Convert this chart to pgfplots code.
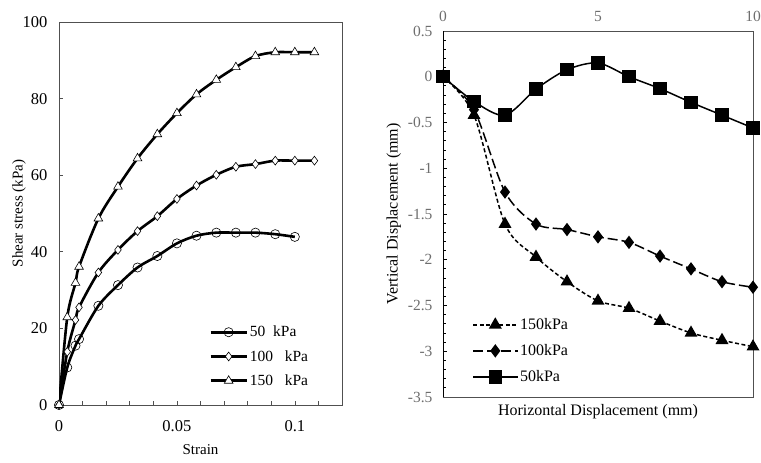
\documentclass[border=0pt]{standalone}
\usepackage{pgfplots}
\pgfplotsset{compat=1.18}
\usepackage{fontspec}
\setmainfont{Liberation Serif}
\definecolor{framegray}{RGB}{80,80,80}
\definecolor{labgray}{RGB}{110,110,110}

\begin{document}
\begin{tikzpicture}
  \useasboundingbox (0pt,0pt) rectangle (761pt,463pt);

  % left: shear stress vs strain
  \begin{axis}[
    at={(59pt,58pt)}, anchor=south west,
    scale only axis, width=283pt, height=383pt,
    xmin=0, xmax=0.12, ymin=0, ymax=100,
    xtick={0,0.05,0.1}, xticklabels={0,0.05,0.1},
    minor xtick={0.01,0.02,0.03,0.04,0.06,0.07,0.08,0.09,0.11},
    ytick={0,20,40,60,80,100},
    tick align=inside, major tick length=4pt, minor tick length=4pt,
    xtick pos=bottom, ytick pos=left,
    axis line style={framegray, line width=0.9pt},
    every tick/.style={framegray, line width=0.6pt},
    tick label style={font=\fontsize{16.5}{18}\selectfont},
    xticklabel style={yshift=-12pt},
    yticklabel style={xshift=-8pt},
    /pgf/number format/assume math mode=true,
    xlabel={Strain}, ylabel={Shear stress (kPa)},
    label style={font=\fontsize{15}{17}\selectfont},
    xlabel style={yshift=-6pt},
    ylabel style={yshift=-10pt},
    legend style={draw=none, fill=none, at={(0.52,0.217)}, anchor=north west,
      font=\fontsize{15.5}{17}\selectfont, row sep=8pt,
      /tikz/every even column/.append style={column sep=2pt}},
    legend cell align=left,
    legend image code/.code={
      \draw[mark repeat=2,mark phase=2] plot coordinates {(0pt,0pt)(18pt,0pt)(36pt,0pt)};},
  ]
    \addplot[black, line width=2.6pt, smooth, mark=o,
      mark options={solid, fill=white, line width=0.6pt, scale=1}, mark size=4.6pt] coordinates {
      (0,0) (0.0035,9.8) (0.007,15.5) (0.0085,17.2) (0.0167,25.9) (0.025,31.3)
      (0.0333,35.9) (0.0417,38.9) (0.05,42.2) (0.0583,44.2) (0.0667,45.0)
      (0.075,45.0) (0.0833,45.0) (0.0917,44.6) (0.1,43.9)
    };
    \addplot[black, line width=2.6pt, smooth, mark=diamond*,
      mark options={solid, fill=white, line width=0.6pt}, mark size=4.4pt] coordinates {
      (0,0) (0.0035,13.9) (0.007,22.2) (0.0085,25.5) (0.0167,34.6) (0.025,40.5)
      (0.0333,45.4) (0.0417,49.3) (0.05,53.8) (0.0583,57.3) (0.0667,60.1)
      (0.075,62.2) (0.0833,62.9) (0.0917,63.8) (0.1,63.8) (0.1083,63.8)
    };
    \addplot[black, line width=2.6pt, smooth, mark=triangle*,
      mark options={solid, fill=white, line width=0.6pt}, mark size=5pt] coordinates {
      (0,0) (0.0035,22.9) (0.007,31.9) (0.0085,36.1) (0.0167,48.7) (0.025,57.0)
      (0.0333,64.4) (0.0417,70.7) (0.05,76.2) (0.0583,81.1) (0.0667,84.9)
      (0.075,88.2) (0.0833,91.1) (0.0917,92.1) (0.1,92.1) (0.1083,92.1)
    };
    \legend{50\ \ kPa,100\ \ \ kPa,150\ \ \ kPa}
  \end{axis}

  % right: vertical vs horizontal displacement
  \begin{axis}[
    at={(443pt,66pt)}, anchor=south west,
    scale only axis, width=310pt, height=366pt,
    xmin=0, xmax=10, ymin=-3.5, ymax=0.5,
    xtick={0,5,10}, xticklabel pos=top, xtick pos=top,
    major x tick style={draw=none},
    ytick={-3.5,-3,-2.5,-2,-1.5,-1,-0.5,0,0.5},
    yticklabels={-3.5,-3,-2.5,-2,-1.5,-1,-0.5,0,0.5},
    minor y tick num=4, ytick pos=left,
    tick align=inside, major tick length=4pt, minor tick length=3pt,
    axis line style={framegray, line width=0.9pt},
    every y tick/.style={black, line width=0.8pt},
    tick label style={font=\fontsize{15.5}{17}\selectfont, text=labgray},
    xticklabel style={yshift=6pt},
    yticklabel style={xshift=-7pt},
    /pgf/number format/assume math mode=true,
    xlabel={Horizontal Displacement (mm)}, ylabel={Vertical Displacement (mm)},
    label style={font=\fontsize{16}{18}\selectfont},
    xlabel style={at={(axis description cs:0.5,0)}, anchor=north, yshift=-4pt},
    ylabel style={yshift=0pt},
    legend style={draw=none, fill=none, at={(0.085,0.226)}, anchor=north west,
      font=\fontsize{16}{18}\selectfont, row sep=9.5pt,
      /tikz/every even column/.append style={column sep=2pt}},
    legend cell align=left,
    legend image code/.code={
      \draw[mark repeat=2,mark phase=2] plot coordinates {(0pt,0pt)(22pt,0pt)(44pt,0pt)};},
  ]
    \addplot[black, line width=1.5pt, smooth, dash pattern=on 4pt off 2.5pt,
      mark=triangle*, mark options={solid}, mark size=6pt] coordinates {
      (0,0) (1,-0.42) (2,-1.61) (3,-1.97) (4,-2.24) (5,-2.45) (6,-2.53)
      (7,-2.67) (8,-2.80) (9,-2.88) (10,-2.95)
    };
    \addplot[black, line width=1.5pt, smooth, dash pattern=on 10pt off 4pt,
      mark=diamond*, mark options={solid}, mark size=5.5pt] coordinates {
      (0,0) (1,-0.36) (2,-1.26) (3,-1.61) (4,-1.67) (5,-1.75) (6,-1.81)
      (7,-1.96) (8,-2.10) (9,-2.24) (10,-2.30)
    };
    \addplot[black, line width=1.5pt, smooth,
      mark=square*, mark options={solid}, mark size=6pt] coordinates {
      (0,0) (1,-0.27) (2,-0.42) (3,-0.135) (4,0.077) (5,0.15) (6,0)
      (7,-0.13) (8,-0.28) (9,-0.42) (10,-0.56)
    };
    \draw[black, line width=2pt] (rel axis cs:0,0) -- (rel axis cs:0,1);
    \legend{150kPa,100kPa,50kPa}
  \end{axis}
\end{tikzpicture}
\end{document}
